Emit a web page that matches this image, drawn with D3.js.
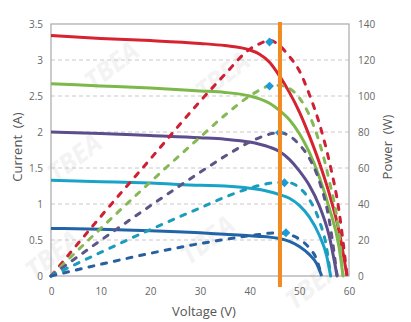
<!DOCTYPE html>
<html>
<head lang="en">
    <meta charset="UTF-8">
    <title></title>
    <style>
        body { margin: 0; background: #fff; }
        svg { font-family: "Open Sans", sans-serif; }
        .tick text { fill: #666; font-size: 10px; }
        .axis-label { fill: #555; font-size: 13px; }
    </style>
</head>
<body>
    <svg id="chart" width="411" height="322"></svg>
</body>
<script src="https://cdnjs.cloudflare.com/ajax/libs/d3/7.8.5/d3.min.js"></script>
<script>

    // one curve per irradiance level
    let vRed    = [0, 10, 20, 30, 35, 40, 42, 44, 46, 48, 50, 52, 54, 56, 58, 59.6];
    let iRed    = [3.34, 3.30, 3.27, 3.23, 3.20, 3.14, 3.08, 2.97, 2.78, 2.55, 2.28, 1.95, 1.58, 1.15, 0.62, 0];
    let pRed    = [0, 33, 65, 97, 112, 126, 129, 131, 128, 122, 114, 101, 85, 64, 36, 0];

    let vGreen  = [0, 10, 20, 30, 35, 40, 42, 44, 46, 48, 50, 52, 54, 56, 58, 58.8];
    let iGreen  = [2.67, 2.64, 2.61, 2.57, 2.55, 2.50, 2.46, 2.40, 2.30, 2.17, 1.98, 1.72, 1.38, 0.95, 0.40, 0];
    let pGreen  = [0, 26.4, 52.2, 77.1, 89.3, 100, 103.3, 105.6, 105.8, 104.2, 99, 89.4, 74.5, 53.2, 23.2, 0];

    let vPurple = [0, 10, 20, 30, 35, 40, 42, 44, 46, 48, 50, 52, 54, 56, 57.6];
    let iPurple = [2.00, 1.98, 1.95, 1.92, 1.90, 1.86, 1.83, 1.79, 1.73, 1.62, 1.46, 1.26, 0.98, 0.56, 0];
    let pPurple = [0, 19.8, 39, 57.6, 66.5, 74.4, 76.9, 78.8, 79.6, 77.8, 73, 65.5, 52.9, 31.4, 0];

    let vCyan   = [0, 10, 20, 30, 35, 40, 42, 44, 46, 48, 50, 52, 54, 55.5, 56.3];
    let iCyan   = [1.33, 1.31, 1.29, 1.26, 1.25, 1.22, 1.20, 1.17, 1.13, 1.08, 0.98, 0.82, 0.57, 0.28, 0];
    let pCyan   = [0, 13.1, 25.8, 37.8, 43.8, 48.8, 50.4, 51.5, 52, 51.8, 49, 42.6, 30.8, 15.5, 0];

    let vBlue   = [0, 10, 20, 30, 35, 40, 42, 44, 46, 48, 50, 52, 53.5, 54.5];
    let iBlue   = [0.66, 0.65, 0.63, 0.60, 0.58, 0.56, 0.55, 0.54, 0.52, 0.48, 0.41, 0.30, 0.17, 0];
    let pBlue   = [0, 6.5, 12.6, 18, 20.3, 22.4, 23.1, 23.8, 23.9, 23, 20.5, 15.6, 9.1, 0];

    // maximum power points (diamonds)
    let mppV = [44, 44, 46, 47, 47.3];
    let mppP = [130, 105.5, 79.6, 51.8, 24];

    let markerVoltage = 46.1;

    let xTicks = [0, 10, 20, 30, 40, 50, 60];
    let currentTicks = [0, 0.5, 1, 1.5, 2, 2.5, 3, 3.5];
    let powerTicks = [0, 20, 40, 60, 80, 100, 120, 140];

    let solidColors = ['#d6232f', '#7cb84a', '#5c4d8c', '#1aa3c8', '#2264a8'];
    let dashColors  = ['#cf1f35', '#86b955', '#5d5487', '#1b9cbc', '#275f9f'];

    let curves = [
        {v: vRed,    i: iRed,    p: pRed},
        {v: vGreen,  i: iGreen,  p: pGreen},
        {v: vPurple, i: iPurple, p: pPurple},
        {v: vCyan,   i: iCyan,   p: pCyan},
        {v: vBlue,   i: iBlue,   p: pBlue}
    ];

    let margin = {top: 24, right: 62, bottom: 46, left: 51};
    let width = 411 - margin.left - margin.right;
    let height = 322 - margin.top - margin.bottom;

    let svg = d3.select('svg');

    // faint watermark
    let marks = [[117, 73], [228, 83], [80, 165], [213, 247], [58, 262], [318, 292]];
    svg.append('g').selectAll('text')
        .data(marks)
        .enter().append('text')
        .attr('transform', d => 'translate(' + d[0] + ',' + d[1] + ') rotate(-38)')
        .attr('text-anchor', 'middle')
        .attr('font-size', 26)
        .attr('font-weight', 'bold')
        .attr('font-style', 'italic')
        .attr('fill', '#f3f3f3')
        .text('TBEA');

    let canvas = svg.append('g')
        .attr('transform', 'translate(' + margin.left + ',' + margin.top + ')');

    let x = d3.scaleLinear().domain([0, 60]).range([0, width]);
    let y = d3.scaleLinear().domain([0, 3.5]).range([height, 0]);
    let y2 = d3.scaleLinear().domain([0, 140]).range([height, 0]);

    // grid
    canvas.append('g')
        .selectAll('line')
        .data(currentTicks.filter(d => d > 0 && d < 3.5))
        .enter().append('line')
        .attr('x1', 0).attr('x2', width)
        .attr('y1', d => y(d)).attr('y2', d => y(d))
        .attr('stroke', '#c9c9c9')
        .attr('stroke-dasharray', '4,3');

    canvas.append('rect')
        .attr('width', width).attr('height', height)
        .attr('fill', 'none')
        .attr('stroke', '#a8a8a8')
        .attr('stroke-width', 1.2);

    // axes
    canvas.append('g')
        .call(d3.axisLeft(y).tickValues(currentTicks).tickSize(0).tickPadding(8).tickFormat(d => d))
        .select('.domain').remove();

    canvas.append('g')
        .attr('transform', 'translate(' + width + ',0)')
        .call(d3.axisRight(y2).tickValues(powerTicks).tickSize(0).tickPadding(9))
        .select('.domain').remove();

    canvas.append('g')
        .attr('transform', 'translate(0,' + height + ')')
        .call(d3.axisBottom(x).tickValues(xTicks).tickSize(0).tickPadding(12))
        .select('.domain').remove();

    canvas.selectAll('.tick text').attr('fill', '#666').attr('font-family', '"Open Sans", sans-serif');

    svg.append('text')
        .attr('class', 'axis-label')
        .attr('transform', 'translate(22,147) rotate(-90)')
        .attr('text-anchor', 'middle')
        .attr('xml:space', 'preserve')
        .text('Current  (A)');

    svg.append('text')
        .attr('class', 'axis-label')
        .attr('transform', 'translate(392,147) rotate(-90)')
        .attr('text-anchor', 'middle')
        .attr('xml:space', 'preserve')
        .text('Power  (W)');

    svg.append('text')
        .attr('class', 'axis-label')
        .attr('x', 204).attr('y', 316)
        .attr('text-anchor', 'middle')
        .text('Voltage (V)');

    let currentLine = d3.line()
        .curve(d3.curveMonotoneX)
        .x(d => x(d[0]))
        .y(d => y(d[1]));

    let powerLine = d3.line()
        .curve(d3.curveMonotoneX)
        .x(d => x(d[0]))
        .y(d => y2(d[1]));

    // I-V curves
    canvas.append('g')
        .selectAll('path')
        .data(curves)
        .enter().append('path')
        .attr('fill', 'none')
        .attr('stroke', (d, k) => solidColors[k])
        .attr('stroke-width', 3)
        .attr('d', d => currentLine(d.v.map((v, k) => [v, d.i[k]])));

    // P-V curves
    canvas.append('g')
        .selectAll('path')
        .data(curves)
        .enter().append('path')
        .attr('fill', 'none')
        .attr('stroke', (d, k) => dashColors[k])
        .attr('stroke-width', 3)
        .attr('stroke-linecap', 'round')
        .attr('stroke-dasharray', '5,8')
        .attr('d', d => powerLine(d.v.map((v, k) => [v, d.p[k]])));

    // MPP diamonds
    canvas.append('g')
        .selectAll('path')
        .data(mppV)
        .enter().append('path')
        .attr('transform', (d, k) => 'translate(' + x(d) + ',' + y2(mppP[k]) + ')')
        .attr('d', d3.symbol().type(d3.symbolDiamond2).size(50))
        .attr('fill', '#1e9ad8');

    // operating voltage marker
    canvas.append('line')
        .attr('x1', x(markerVoltage)).attr('x2', x(markerVoltage))
        .attr('y1', -2).attr('y2', height + 11)
        .attr('stroke', '#f28a22')
        .attr('stroke-width', 4);

</script>
</html>
